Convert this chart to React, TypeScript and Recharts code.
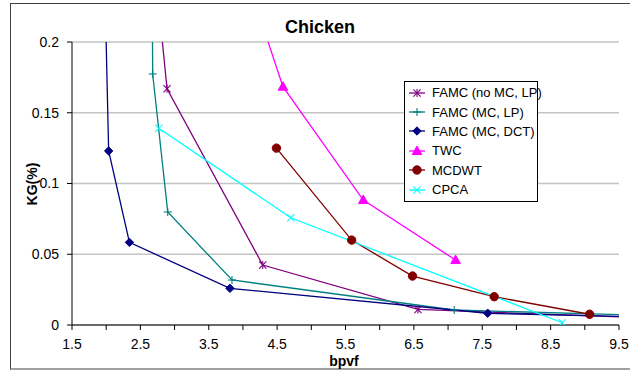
import React from 'react';
import { LineChart, Line, XAxis, YAxis, CartesianGrid, Legend } from 'recharts';

// ---- data ----
const famcNoMcLpX = [2.76, 2.89, 4.29, 6.56, 10.5];
const famcNoMcLpY = [0.23, 0.167, 0.0424, 0.011, 0.0039];

const famcMcLpX = [2.67, 2.68, 2.9, 3.84, 7.09, 10.5];
const famcMcLpY = [0.26, 0.1774, 0.0799, 0.0318, 0.0106, 0.006];

const famcMcDctX = [1.99, 2.036, 2.34, 3.81, 7.58, 10.5];
const famcMcDctY = [0.22, 0.123, 0.0584, 0.0259, 0.0083, 0.005];

const twcX = [4.3, 4.585, 5.76, 7.11];
const twcY = [0.21, 0.1684, 0.0883, 0.0459];

const mcdwtX = [4.49, 5.59, 6.48, 7.675, 9.07];
const mcdwtY = [0.125, 0.06, 0.0346, 0.02, 0.0076];

const cpcaX = [2.77, 4.7, 8.67];
const cpcaY = [0.139, 0.0758, 0.0016];

const xTicks = [1.5, 2, 2.5, 3, 3.5, 4, 4.5, 5, 5.5, 6, 6.5, 7, 7.5, 8, 8.5, 9, 9.5];
const yTicks = [0, 0.05, 0.1, 0.15, 0.2];

const toPts = (xs: number[], ys: number[]) => xs.map((x, i) => ({ x, y: ys[i] }));

type Shape = 'star' | 'plus' | 'diamond' | 'triangle' | 'circle' | 'x';

const series: { name: string; color: string; shape: Shape; data: { x: number; y: number }[] }[] = [
  { name: 'FAMC (no MC, LP)', color: '#800080', shape: 'star', data: toPts(famcNoMcLpX, famcNoMcLpY) },
  { name: 'FAMC (MC, LP)', color: '#008080', shape: 'plus', data: toPts(famcMcLpX, famcMcLpY) },
  { name: 'FAMC (MC, DCT)', color: '#000080', shape: 'diamond', data: toPts(famcMcDctX, famcMcDctY) },
  { name: 'TWC', color: '#FF00FF', shape: 'triangle', data: toPts(twcX, twcY) },
  { name: 'MCDWT', color: '#800000', shape: 'circle', data: toPts(mcdwtX, mcdwtY) },
  { name: 'CPCA', color: '#00FFFF', shape: 'x', data: toPts(cpcaX, cpcaY) },
];

const FONT = "Arial, 'Liberation Sans', sans-serif";

function Marker({ cx, cy, shape, color }: { cx: number; cy: number; shape: Shape; color: string }) {
  const s = 3.6;
  switch (shape) {
    case 'star':
      return (
        <g stroke={color} strokeWidth={1.1}>
          <line x1={cx - s} y1={cy - s} x2={cx + s} y2={cy + s} />
          <line x1={cx - s} y1={cy + s} x2={cx + s} y2={cy - s} />
          <line x1={cx} y1={cy - s - 0.5} x2={cx} y2={cy + s + 0.5} />
        </g>
      );
    case 'plus':
      return (
        <g stroke={color} strokeWidth={1.1}>
          <line x1={cx - 4} y1={cy} x2={cx + 4} y2={cy} />
          <line x1={cx} y1={cy - 4} x2={cx} y2={cy + 4} />
        </g>
      );
    case 'diamond':
      return <polygon points={`${cx},${cy - 4.2} ${cx + 4.2},${cy} ${cx},${cy + 4.2} ${cx - 4.2},${cy}`} fill={color} stroke={color} />;
    case 'triangle':
      return <polygon points={`${cx},${cy - 5} ${cx + 4.8},${cy + 3.5} ${cx - 4.8},${cy + 3.5}`} fill={color} stroke={color} />;
    case 'circle':
      return <circle cx={cx} cy={cy} r={4.2} fill={color} stroke={color} />;
    case 'x':
    default:
      return (
        <g stroke={color} strokeWidth={1.1}>
          <line x1={cx - s} y1={cy - s} x2={cx + s} y2={cy + s} />
          <line x1={cx - s} y1={cy + s} x2={cx + s} y2={cy - s} />
        </g>
      );
  }
}

const renderLegend = () => (
  <div
    style={{
      border: '1px solid #000',
      background: '#fff',
      width: 132,
      padding: '1px 0 2px 0',
      fontFamily: FONT,
      fontSize: 13,
      color: '#000',
      boxSizing: 'content-box',
    }}
  >
    {series.map((s) => (
      <div key={s.name} style={{ height: 19.4, display: 'flex', alignItems: 'center' }}>
        <svg width={23} height={16} style={{ marginLeft: 3, flex: 'none' }}>
          <line x1={1} y1={8} x2={17} y2={8} stroke={s.color} strokeWidth={1.3} />
          <Marker cx={9} cy={8} shape={s.shape} color={s.color} />
        </svg>
        <span style={{ whiteSpace: 'nowrap', marginLeft: 1 }}>{s.name}</span>
      </div>
    ))}
  </div>
);

export default function App() {
  return (
    <div style={{ position: 'absolute', left: 0, top: 0, width: 630, height: 371, overflow: 'hidden', background: '#fff' }}>
      <div
        style={{
          position: 'absolute',
          left: 10,
          top: 3,
          width: 640,
          height: 364,
          borderLeft: '1px solid #404040',
          borderTop: '1px solid #404040',
          borderBottom: '2px solid #a0a0a0',
        }}
      />
      <div
        style={{
          position: 'absolute',
          left: 220,
          width: 200,
          top: 17,
          textAlign: 'center',
          fontFamily: FONT,
          fontWeight: 'bold',
          fontSize: 18,
          lineHeight: 'normal',
        }}
      >
        Chicken
      </div>
      <div style={{ position: 'absolute', left: 0, top: 0 }}>
        <LineChart width={630} height={371} margin={{ top: 42, right: 11, left: 0, bottom: 16 }}>
          <CartesianGrid vertical={false} stroke="#c4c4c4" strokeWidth={1.5} />
          <XAxis
            type="number"
            dataKey="x"
            domain={[1.5, 9.5]}
            ticks={xTicks}
            allowDataOverflow
            interval={0}
            height={30}
            tickSize={5}
            tickMargin={9}
            tickFormatter={(v: number) => (Math.abs(((v - 1.5) % 1)) < 1e-6 ? String(v) : '')}
            axisLine={{ stroke: '#000', strokeWidth: 1 }}
            tickLine={{ stroke: '#000' }}
            tick={{ fill: '#000', fontSize: 14, fontFamily: FONT }}
            label={{
              content: () => (
                <text x={344} y={366} textAnchor="middle" fontFamily={FONT} fontWeight="bold" fontSize={14} fill="#000">
                  bpvf
                </text>
              ),
            }}
          />
          <YAxis
            type="number"
            domain={[0, 0.2]}
            ticks={yTicks}
            allowDataOverflow
            width={72}
            tickSize={5}
            tickMargin={8}
            axisLine={{ stroke: '#000', strokeWidth: 1 }}
            tickLine={{ stroke: '#000' }}
            tick={{ fill: '#000', fontSize: 14, fontFamily: FONT }}
            label={{
              content: () => (
                <text
                  x={32}
                  y={184}
                  transform="rotate(-90 32 184)"
                  textAnchor="middle"
                  dominantBaseline="central"
                  fontFamily={FONT}
                  fontWeight="bold"
                  fontSize={14}
                  fill="#000"
                >
                  KG(%)
                </text>
              ),
            }}
          />
          {series.map((s) => (
            <Line
              key={s.name}
              data={s.data}
              dataKey="y"
              name={s.name}
              type="linear"
              stroke={s.color}
              strokeWidth={1.3}
              isAnimationActive={false}
              legendType="none"
              dot={(p: any) => (
                <Marker key={`${s.name}-${p.index}`} cx={p.cx} cy={p.cy} shape={s.shape} color={s.color} />
              )}
              activeDot={false}
            />
          ))}
          <Legend
            content={renderLegend}
            layout="vertical"
            verticalAlign="middle"
            align="center"
            wrapperStyle={{ position: 'absolute', left: 404, top: 81, width: 134 }}
          />
        </LineChart>
      </div>
    </div>
  );
}
